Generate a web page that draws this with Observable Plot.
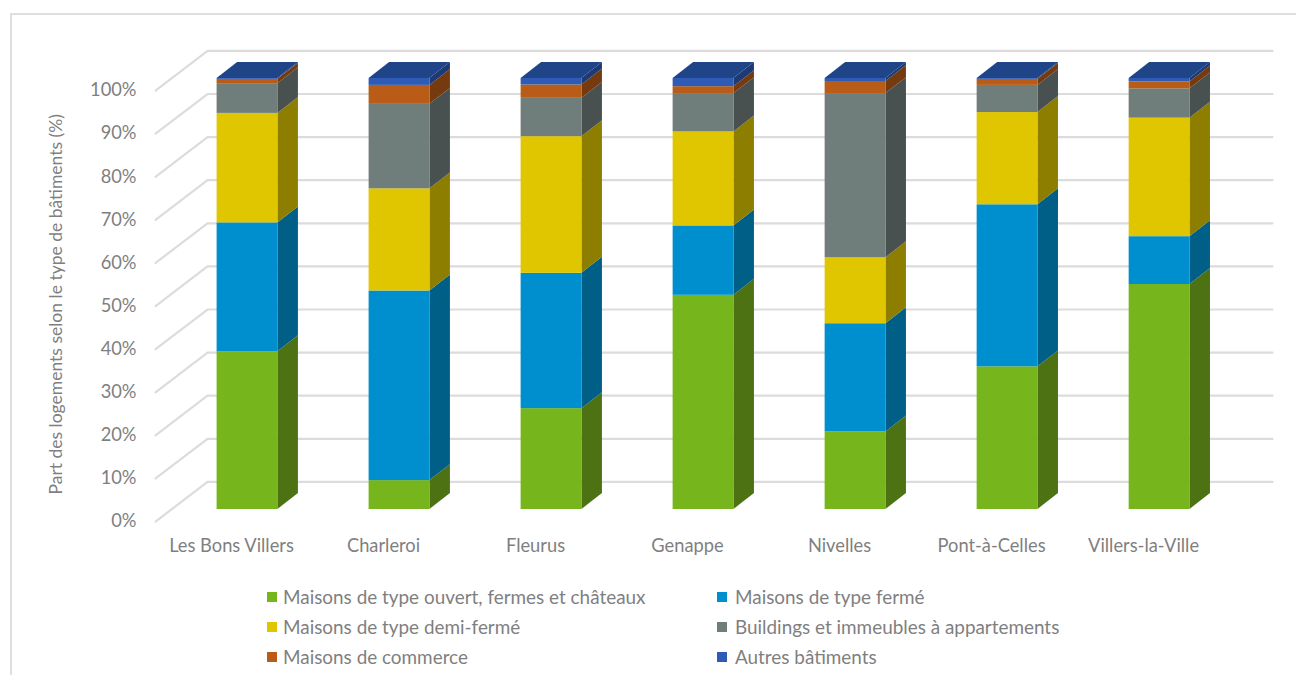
<!DOCTYPE html>
<html lang="fr">
<head>
<meta charset="utf-8">
<script src="https://cdn.jsdelivr.net/npm/d3@7"></script>
<script src="https://cdn.jsdelivr.net/npm/@observablehq/plot@0.6"></script>
<style>
  html, body { margin: 0; padding: 0; background: #fff; width: 1296px; height: 675px; overflow: hidden; }
  #chart svg { display: block; }
  #frame { position: absolute; left: 10px; top: 13px; right: 0; bottom: 0; border-left: 2px solid #dfdfdf; border-top: 2px solid #dfdfdf; pointer-events: none; }
  #legend { display: grid; grid-template-columns: 450px 450px; margin: 2px 0 0 267px; font: 18.9px Lato, sans-serif; color: #7f7f7f; }
  #legend div { height: 30px; line-height: 30px; display: flex; align-items: center; white-space: nowrap; }
  #legend i { display: inline-block; width: 10px; height: 10px; margin-right: 6px; flex: none; }
  #legend div:nth-child(even) i { margin-right: 8px; }
</style>
</head>
<body>
<div id="frame"></div>
<div id="chart"></div>
<div id="legend"></div>
<script>
const communes = ["Les Bons Villers", "Charleroi", "Fleurus", "Genappe", "Nivelles", "Pont-à-Celles", "Villers-la-Ville"];
const seriesNames = [
  "Maisons de type ouvert, fermes et châteaux",
  "Maisons de type fermé",
  "Maisons de type demi-fermé",
  "Buildings et immeubles à appartements",
  "Maisons de commerce",
  "Autres bâtiments"
];
const ouvert   = [36.6,  6.7, 23.4, 49.7, 18.0, 33.1, 52.2];
const ferme    = [29.9, 44.0, 31.4, 16.1, 25.1, 37.6, 11.1];
const demi     = [25.4, 23.7, 31.7, 21.8, 15.3, 21.4, 27.5];
const immeubles= [ 6.9, 19.6,  8.9,  8.9, 38.1,  6.3,  6.8];
const commerce = [ 1.0,  4.4,  3.1,  1.6,  2.8,  1.4,  1.6];
const autres   = [ 0.2,  1.6,  1.5,  1.9,  0.7,  0.2,  0.8];
const seriesValues = [ouvert, ferme, demi, immeubles, commerce, autres];
const yTicks = [0, 10, 20, 30, 40, 50, 60, 70, 80, 90, 100];

const frontColors = ["#76b51b", "#008fce", "#e0c600", "#6f7d7b", "#b85c17", "#2e5bb5"];
const sideColors  = ["#4c7213", "#005f87", "#8e7e00", "#485150", "#753a0e", "#1d3a75"];
const topColor = "#1f4488";
const gridColor = "#dcdcdc";

// Oblique projection, in scale units: one x unit is one category step.
const halfBar = 0.2, depthX = 0.135, depthY = 3.7;
const wallX0 = -0.605, wallX1 = -0.263, wallX2 = 6.743, wallFront = -2.8, wallBack = 6.4;

const fronts = [], sides = [], tops = [];
communes.forEach((name, i) => {
  let base = 0;
  seriesValues.forEach((vals, s) => {
    const lo = base, hi = base + vals[i];
    base = hi;
    fronts.push({x1: i - halfBar, x2: i + halfBar, y1: lo, y2: hi, fill: frontColors[s]});
    const key = i + "-" + s, r = i + halfBar;
    sides.push({key, x: r, y1: lo, y2: hi, fill: sideColors[s]});
    sides.push({key, x: r + depthX, y1: lo + depthY, y2: hi + depthY, fill: sideColors[s]});
  });
  const l = i - halfBar, r = i + halfBar, t = 100;
  tops.push({key: i, x: l, y1: t, y2: t});
  tops.push({key: i, x: l + depthX, y1: t, y2: t + depthY});
  tops.push({key: i, x: r, y1: t, y2: t + depthY});
  tops.push({key: i, x: r + depthX, y1: t + depthY, y2: t + depthY});
});
const grid = yTicks.flatMap(v => [
  {v, x: wallX0, y: v + wallFront},
  {v, x: wallX1, y: v + wallBack},
  {v, x: wallX2, y: v + wallBack}
]);

const plot = Plot.plot({
  width: 1296,
  height: 580,
  marginLeft: 140,
  marginRight: 24,
  marginTop: 78,
  marginBottom: 71,
  style: {fontFamily: "Lato, sans-serif", fontSize: "18.3px", color: "#7f7f7f", background: "transparent"},
  x: {domain: [-0.7039, 6.743]},
  y: {domain: [0, 100]},
  marks: [
    Plot.line(grid, {x: "x", y: "y", z: "v", stroke: gridColor, strokeWidth: 2.2}),
    Plot.axisY({ticks: yTicks, tickFormat: d => d + "%", tickSize: 0, tickPadding: 4, dy: 12, label: null}),
    Plot.axisX({ticks: d3.range(communes.length), tickFormat: i => communes[i], tickSize: 0, tickPadding: 29, dx: -16, label: null}),
    Plot.text(["Part des logements selon le type de bâtiments (%)"], {
      frameAnchor: "left", textAnchor: "middle", dx: -84, y: [47.6], rotate: -90, text: d => d, fontSize: 17.5, fill: "#7f7f7f"
    }),
    Plot.area(sides, {x1: "x", y1: "y1", y2: "y2", z: "key", fill: "fill", curve: "linear"}),
    Plot.area(tops, {x1: "x", y1: "y1", y2: "y2", z: "key", fill: topColor, curve: "linear"}),
    Plot.rect(fronts, {x1: "x1", x2: "x2", y1: "y1", y2: "y2", fill: "fill"})
  ]
});
document.getElementById("chart").append(plot);

const legend = document.getElementById("legend");
// Read row by row: left column then right column, as in the original.
seriesNames.forEach((name, s) => {
  const row = document.createElement("div");
  const sw = document.createElement("i");
  sw.style.background = frontColors[s];
  row.append(sw, document.createTextNode(name));
  legend.append(row);
});
</script>
</body>
</html>
